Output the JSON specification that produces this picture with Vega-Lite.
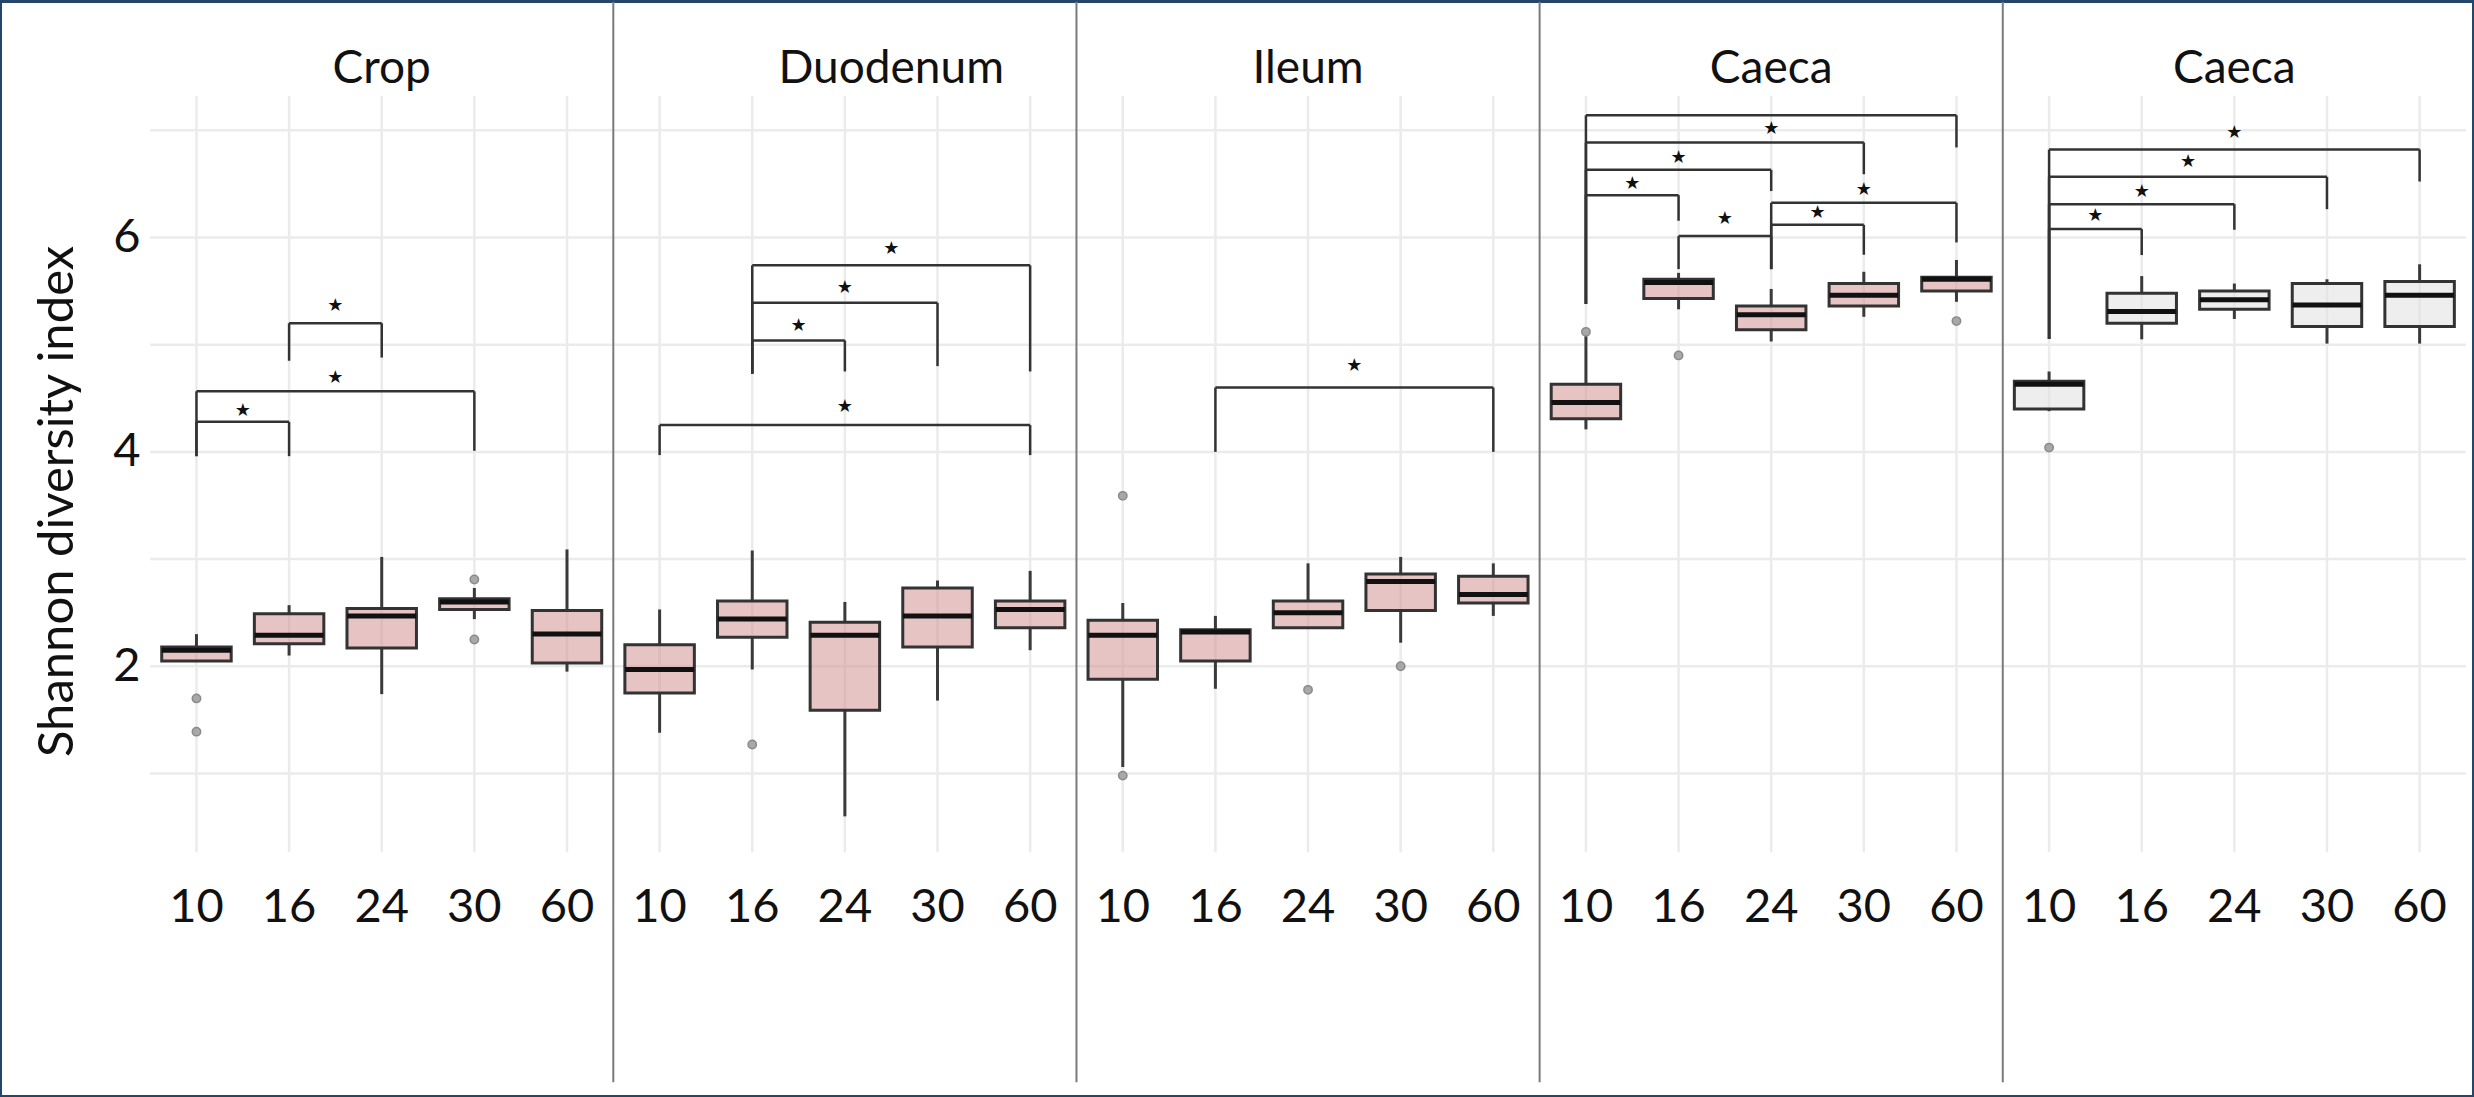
{
  "$schema": "https://vega.github.io/schema/vega-lite/v6.json",
  "width": 2474,
  "height": 1097,
  "autosize": {"type": "fit", "contains": "padding"},
  "padding": 0,
  "background": "white",
  "config": {"view": {"stroke": "#24466b", "strokeWidth": 4}},
  "datasets": {
    "boxes": [
      {"g": "p1|10", "grp": "A", "lo": 2.05, "q1": 2.05, "med": 2.15, "q3": 2.18, "hi": 2.30},
      {"g": "p1|16", "grp": "A", "lo": 2.10, "q1": 2.21, "med": 2.29, "q3": 2.49, "hi": 2.57},
      {"g": "p1|24", "grp": "A", "lo": 1.74, "q1": 2.17, "med": 2.47, "q3": 2.54, "hi": 3.02},
      {"g": "p1|30", "grp": "A", "lo": 2.44, "q1": 2.53, "med": 2.60, "q3": 2.63, "hi": 2.73},
      {"g": "p1|60", "grp": "A", "lo": 1.95, "q1": 2.03, "med": 2.30, "q3": 2.52, "hi": 3.09},
      {"g": "p2|10", "grp": "A", "lo": 1.38, "q1": 1.75, "med": 1.97, "q3": 2.20, "hi": 2.53},
      {"g": "p2|16", "grp": "A", "lo": 1.97, "q1": 2.27, "med": 2.44, "q3": 2.61, "hi": 3.08},
      {"g": "p2|24", "grp": "A", "lo": 0.60, "q1": 1.59, "med": 2.29, "q3": 2.41, "hi": 2.60},
      {"g": "p2|30", "grp": "A", "lo": 1.68, "q1": 2.18, "med": 2.47, "q3": 2.73, "hi": 2.80},
      {"g": "p2|60", "grp": "A", "lo": 2.15, "q1": 2.36, "med": 2.53, "q3": 2.61, "hi": 2.89},
      {"g": "p3|10", "grp": "A", "lo": 1.06, "q1": 1.88, "med": 2.29, "q3": 2.43, "hi": 2.59},
      {"g": "p3|16", "grp": "A", "lo": 1.79, "q1": 2.05, "med": 2.32, "q3": 2.34, "hi": 2.47},
      {"g": "p3|24", "grp": "A", "lo": 2.36, "q1": 2.36, "med": 2.50, "q3": 2.61, "hi": 2.96},
      {"g": "p3|30", "grp": "A", "lo": 2.22, "q1": 2.52, "med": 2.79, "q3": 2.86, "hi": 3.02},
      {"g": "p3|60", "grp": "A", "lo": 2.47, "q1": 2.59, "med": 2.67, "q3": 2.84, "hi": 2.96},
      {"g": "p4|10", "grp": "A", "lo": 4.21, "q1": 4.31, "med": 4.46, "q3": 4.63, "hi": 5.08},
      {"g": "p4|16", "grp": "A", "lo": 5.33, "q1": 5.43, "med": 5.58, "q3": 5.61, "hi": 5.67},
      {"g": "p4|24", "grp": "A", "lo": 5.03, "q1": 5.14, "med": 5.28, "q3": 5.36, "hi": 5.52},
      {"g": "p4|30", "grp": "A", "lo": 5.26, "q1": 5.36, "med": 5.46, "q3": 5.57, "hi": 5.68},
      {"g": "p4|60", "grp": "A", "lo": 5.40, "q1": 5.50, "med": 5.61, "q3": 5.63, "hi": 5.79},
      {"g": "p5|10", "grp": "B", "lo": 4.38, "q1": 4.40, "med": 4.63, "q3": 4.66, "hi": 4.75},
      {"g": "p5|16", "grp": "B", "lo": 5.05, "q1": 5.20, "med": 5.31, "q3": 5.48, "hi": 5.64},
      {"g": "p5|24", "grp": "B", "lo": 5.24, "q1": 5.33, "med": 5.42, "q3": 5.50, "hi": 5.57},
      {"g": "p5|30", "grp": "B", "lo": 5.01, "q1": 5.17, "med": 5.37, "q3": 5.57, "hi": 5.61},
      {"g": "p5|60", "grp": "B", "lo": 5.01, "q1": 5.17, "med": 5.46, "q3": 5.59, "hi": 5.75}
    ],
    "outliers": [
      {"g": "p1|10", "v": 1.70}, {"g": "p1|10", "v": 1.39},
      {"g": "p1|30", "v": 2.81}, {"g": "p1|30", "v": 2.25},
      {"g": "p2|16", "v": 1.27},
      {"g": "p3|10", "v": 3.59}, {"g": "p3|10", "v": 0.98},
      {"g": "p3|24", "v": 1.78}, {"g": "p3|30", "v": 2.00},
      {"g": "p4|10", "v": 5.12}, {"g": "p4|16", "v": 4.90}, {"g": "p4|60", "v": 5.22},
      {"g": "p5|10", "v": 4.04}
    ],
    "brackets": [
      {"g1": "p1|10", "g2": "p1|16", "h": 4.28, "l1": 3.96, "l2": 3.96},
      {"g1": "p1|10", "g2": "p1|30", "h": 4.565, "l1": 3.96, "l2": 4.01},
      {"g1": "p1|16", "g2": "p1|24", "h": 5.20, "l1": 4.85, "l2": 4.88},
      {"g1": "p2|16", "g2": "p2|60", "h": 5.74, "l1": 4.73, "l2": 4.75},
      {"g1": "p2|16", "g2": "p2|30", "h": 5.39, "l1": 4.73, "l2": 4.80},
      {"g1": "p2|16", "g2": "p2|24", "h": 5.04, "l1": 4.73, "l2": 4.75},
      {"g1": "p2|10", "g2": "p2|60", "h": 4.25, "l1": 3.97, "l2": 3.97},
      {"g1": "p3|16", "g2": "p3|60", "h": 4.60, "l1": 4.00, "l2": 4.00},
      {"g1": "p4|10", "g2": "p4|60", "h": 7.14, "l1": 5.38, "l2": 6.84},
      {"g1": "p4|10", "g2": "p4|30", "h": 6.886, "l1": 5.38, "l2": 6.59},
      {"g1": "p4|10", "g2": "p4|24", "h": 6.631, "l1": 5.38, "l2": 6.433},
      {"g1": "p4|10", "g2": "p4|16", "h": 6.395, "l1": 5.38, "l2": 6.156},
      {"g1": "p4|16", "g2": "p4|24", "h": 6.013, "l1": 5.705, "l2": 5.705},
      {"g1": "p4|24", "g2": "p4|60", "h": 6.323, "l1": 5.705, "l2": 5.954},
      {"g1": "p4|24", "g2": "p4|30", "h": 6.118, "l1": 5.705, "l2": 5.839},
      {"g1": "p5|10", "g2": "p5|60", "h": 6.82, "l1": 5.053, "l2": 6.522},
      {"g1": "p5|10", "g2": "p5|30", "h": 6.566, "l1": 5.053, "l2": 6.264},
      {"g1": "p5|10", "g2": "p5|24", "h": 6.311, "l1": 5.053, "l2": 6.072},
      {"g1": "p5|10", "g2": "p5|16", "h": 6.078, "l1": 5.053, "l2": 5.836}
    ],
    "stars": [
      {"at": "p1|10", "pos": "b", "v": 4.385},
      {"at": "p1|16", "pos": "b", "v": 4.69},
      {"at": "p1|16", "pos": "b", "v": 5.36},
      {"at": "p2|24", "pos": "b", "v": 5.89},
      {"at": "p2|24", "pos": "c", "v": 5.53},
      {"at": "p2|16", "pos": "b", "v": 5.17},
      {"at": "p2|24", "pos": "c", "v": 4.42},
      {"at": "p3|24", "pos": "b", "v": 4.80},
      {"at": "p4|24", "pos": "c", "v": 7.01},
      {"at": "p4|16", "pos": "c", "v": 6.746},
      {"at": "p4|10", "pos": "b", "v": 6.503},
      {"at": "p4|16", "pos": "b", "v": 6.177},
      {"at": "p4|30", "pos": "c", "v": 6.442},
      {"at": "p4|24", "pos": "b", "v": 6.233},
      {"at": "p5|24", "pos": "c", "v": 6.979},
      {"at": "p5|16", "pos": "b", "v": 6.706},
      {"at": "p5|16", "pos": "c", "v": 6.426},
      {"at": "p5|10", "pos": "b", "v": 6.202}
    ],
    "panels": [
      {"first": "p1|10", "last": "p1|60", "title": "Crop", "tat": "p1|24", "tpos": "c", "levels": [1, 2, 3, 4, 5, 6, 7]},
      {"first": "p2|10", "last": "p2|60", "title": "Duodenum", "tat": "p2|24", "tpos": "b", "levels": [1, 2, 3, 4, 5, 6, 7]},
      {"first": "p3|10", "last": "p3|60", "title": "Ileum", "tat": "p3|24", "tpos": "c", "levels": [1, 2, 3, 4, 5, 6, 7]},
      {"first": "p4|10", "last": "p4|60", "title": "Caeca", "tat": "p4|24", "tpos": "c", "levels": [1, 2, 3, 4, 5, 6, 7]},
      {"first": "p5|10", "last": "p5|60", "title": "Caeca", "tat": "p5|24", "tpos": "c", "levels": [1, 2, 3, 4, 5, 6, 7]}
    ]
  },
  "layer": [
    {
      "data": {"name": "boxes"},
      "mark": {"type": "rule", "color": "#ebebeb", "strokeWidth": 2.5},
      "encoding": {
        "x": {
          "field": "g", "type": "nominal",
          "scale": {
            "type": "band",
            "domain": ["p1|10","p1|16","p1|24","p1|30","p1|60","p2|10","p2|16","p2|24","p2|30","p2|60","p3|10","p3|16","p3|24","p3|30","p3|60","p4|10","p4|16","p4|24","p4|30","p4|60","p5|10","p5|16","p5|24","p5|30","p5|60"],
            "paddingInner": 0, "paddingOuter": 0.854, "align": 0.949
          },
          "axis": {
            "orient": "bottom", "offset": -176, "title": null, "labelExpr": "split(datum.label, '|')[1]",
            "labelAngle": 0, "labelBaseline": "alphabetic", "labelPadding": 0, "labelFont": "Lato",
            "labelFontSize": 47, "labelColor": "#111111", "ticks": false, "domain": false, "grid": false,
            "labelOverlap": false
          }
        },
        "y": {
          "datum": 7.32, "type": "quantitative",
          "scale": {"domain": [-2.018, 8.206], "nice": false, "zero": false},
          "axis": {
            "orient": "left", "offset": -150, "values": [2, 4, 6], "format": "d", "ticks": false, "domain": false, "grid": false,
            "labelFont": "Lato", "labelFontSize": 47, "labelColor": "#111111", "labelPadding": 10,
            "title": "Shannon diversity index", "titleFont": "Lato", "titleFontSize": 49, "titleFontWeight": "normal",
            "titleColor": "#111111", "titleX": -93, "titleY": 500, "titleAngle": -90, "titleBaseline": "middle", "titleAlign": "center"
          }
        },
        "y2": {"datum": 0.265}
      }
    },
    {
      "data": {"name": "panels"},
      "transform": [{"flatten": ["levels"]}],
      "mark": {"type": "rule", "color": "#ebebeb", "strokeWidth": 2.5},
      "encoding": {
        "x": {"field": "first", "type": "nominal", "bandPosition": 0},
        "x2": {"field": "last", "bandPosition": 1},
        "y": {"field": "levels", "type": "quantitative"}
      }
    },
    {
      "data": {"name": "panels"},
      "transform": [{"filter": "datum.first != 'p1|10'"}],
      "mark": {"type": "rule", "color": "#7a7a7a", "strokeWidth": 2},
      "encoding": {
        "x": {"field": "first", "type": "nominal", "bandPosition": 0},
        "y": {"datum": 8.2, "type": "quantitative"},
        "y2": {"datum": -1.88}
      }
    },
    {
      "data": {"name": "boxes"},
      "mark": {"type": "rule", "color": "#3a3a3a", "strokeWidth": 3},
      "encoding": {
        "x": {"field": "g", "type": "nominal"},
        "y": {"field": "lo", "type": "quantitative"},
        "y2": {"field": "q1"}
      }
    },
    {
      "data": {"name": "boxes"},
      "mark": {"type": "rule", "color": "#3a3a3a", "strokeWidth": 3},
      "encoding": {
        "x": {"field": "g", "type": "nominal"},
        "y": {"field": "q3", "type": "quantitative"},
        "y2": {"field": "hi"}
      }
    },
    {
      "data": {"name": "boxes"},
      "mark": {"type": "bar", "width": {"band": 0.75}, "fillOpacity": 0.55, "stroke": "#333333", "strokeWidth": 3, "strokeOpacity": 1},
      "encoding": {
        "x": {"field": "g", "type": "nominal"},
        "y": {"field": "q1", "type": "quantitative"},
        "y2": {"field": "q3"},
        "fill": {"field": "grp", "type": "nominal", "scale": {"domain": ["A", "B"], "range": ["#d49494", "#e0e0e0"]}, "legend": null}
      }
    },
    {
      "data": {"name": "boxes"},
      "mark": {"type": "tick", "color": "#111111", "thickness": 5, "size": 69, "opacity": 1},
      "encoding": {
        "x": {"field": "g", "type": "nominal"},
        "y": {"field": "med", "type": "quantitative"}
      }
    },
    {
      "data": {"name": "outliers"},
      "mark": {"type": "point", "filled": true, "size": 70, "fill": "#a8a8a8", "stroke": "#8a8a8a", "strokeWidth": 1.5, "opacity": 1},
      "encoding": {
        "x": {"field": "g", "type": "nominal"},
        "y": {"field": "v", "type": "quantitative"}
      }
    },
    {
      "data": {"name": "brackets"},
      "mark": {"type": "rule", "color": "#333333", "strokeWidth": 2.5},
      "encoding": {
        "x": {"field": "g1", "type": "nominal", "bandPosition": 0.5},
        "x2": {"field": "g2", "bandPosition": 0.5},
        "y": {"field": "h", "type": "quantitative"}
      }
    },
    {
      "data": {"name": "brackets"},
      "mark": {"type": "rule", "color": "#333333", "strokeWidth": 2.5},
      "encoding": {
        "x": {"field": "g1", "type": "nominal"},
        "y": {"field": "h", "type": "quantitative"},
        "y2": {"field": "l1"}
      }
    },
    {
      "data": {"name": "brackets"},
      "mark": {"type": "rule", "color": "#333333", "strokeWidth": 2.5},
      "encoding": {
        "x": {"field": "g2", "type": "nominal"},
        "y": {"field": "h", "type": "quantitative"},
        "y2": {"field": "l2"}
      }
    },
    {
      "data": {"name": "stars"},
      "transform": [{"filter": "datum.pos == 'c'"}],
      "mark": {"type": "text", "text": "★", "font": "DejaVu Sans", "fontSize": 18, "baseline": "middle", "align": "center", "color": "#111111"},
      "encoding": {
        "x": {"field": "at", "type": "nominal"},
        "y": {"field": "v", "type": "quantitative"}
      }
    },
    {
      "data": {"name": "stars"},
      "transform": [{"filter": "datum.pos == 'b'"}],
      "mark": {"type": "text", "text": "★", "font": "DejaVu Sans", "fontSize": 18, "baseline": "middle", "align": "center", "color": "#111111"},
      "encoding": {
        "x": {"field": "at", "type": "nominal", "bandPosition": 1},
        "y": {"field": "v", "type": "quantitative"}
      }
    },
    {
      "data": {"name": "panels"},
      "transform": [{"filter": "datum.tpos == 'c'"}],
      "mark": {"type": "text", "font": "Lato", "fontSize": 46, "baseline": "alphabetic", "align": "center", "color": "#111111"},
      "encoding": {
        "x": {"field": "tat", "type": "nominal"},
        "y": {"datum": 7.44, "type": "quantitative"},
        "text": {"field": "title"}
      }
    },
    {
      "data": {"name": "panels"},
      "transform": [{"filter": "datum.tpos == 'b'"}],
      "mark": {"type": "text", "font": "Lato", "fontSize": 46, "baseline": "alphabetic", "align": "center", "color": "#111111"},
      "encoding": {
        "x": {"field": "tat", "type": "nominal", "bandPosition": 1},
        "y": {"datum": 7.44, "type": "quantitative"},
        "text": {"field": "title"}
      }
    }
  ]
}
